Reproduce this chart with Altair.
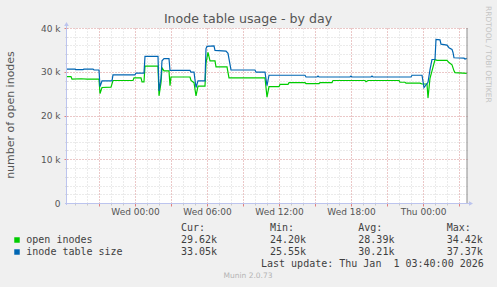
import altair as alt
import pandas as pd

# ---------------- data ----------------
series_names = ["open inodes", "inode table size"]
series_colors = ["#00CC00", "#0066B3"]

green_times = [
    "2025-12-30T18:20", "2025-12-30T18:40", "2025-12-30T18:45", "2025-12-30T19:30",
    "2025-12-30T20:00", "2025-12-30T21:00", "2025-12-30T21:05", "2025-12-30T21:15",
    "2025-12-30T22:00", "2025-12-30T22:10", "2025-12-30T23:50", "2025-12-30T23:55",
    "2025-12-31T00:30", "2025-12-31T00:35", "2025-12-31T00:45", "2025-12-31T00:50",
    "2025-12-31T01:55", "2025-12-31T02:00", "2025-12-31T02:10", "2025-12-31T02:15",
    "2025-12-31T02:25", "2025-12-31T02:50", "2025-12-31T02:55", "2025-12-31T03:00",
    "2025-12-31T04:35", "2025-12-31T04:40", "2025-12-31T04:55", "2025-12-31T05:05",
    "2025-12-31T05:15", "2025-12-31T05:50", "2025-12-31T05:55", "2025-12-31T06:05",
    "2025-12-31T06:15", "2025-12-31T06:40", "2025-12-31T06:45", "2025-12-31T07:40",
    "2025-12-31T07:50", "2025-12-31T10:50", "2025-12-31T11:00", "2025-12-31T11:10",
    "2025-12-31T12:00", "2025-12-31T12:05", "2025-12-31T12:45", "2025-12-31T12:50",
    "2025-12-31T14:10", "2025-12-31T14:15", "2025-12-31T15:20", "2025-12-31T15:25",
    "2025-12-31T16:25", "2025-12-31T16:30", "2025-12-31T19:10", "2025-12-31T19:15",
    "2025-12-31T19:25", "2025-12-31T22:00", "2025-12-31T22:05", "2025-12-31T22:30",
    "2025-12-31T22:35", "2025-12-31T23:45", "2025-12-31T23:55", "2026-01-01T00:20",
    "2026-01-01T00:25", "2026-01-01T00:35", "2026-01-01T00:45", "2026-01-01T01:00",
    "2026-01-01T01:10", "2026-01-01T02:00", "2026-01-01T02:10", "2026-01-01T02:25",
    "2026-01-01T02:35", "2026-01-01T02:40", "2026-01-01T03:40",
]
green_values = [
    28900, 28900, 28300, 28400,
    28300, 28300, 25000, 26400,
    26500, 28000, 28000, 28600,
    28600, 27700, 27700, 31300,
    31300, 24500, 27500, 30900,
    30200, 30200, 26800, 28800,
    28800, 28000, 27500, 24500,
    26700, 26700, 32000, 34420,
    32500, 32500, 31100, 31100,
    28600, 28600, 24200, 26600,
    26600, 27100, 27100, 27500,
    27500, 27300, 27300, 27500,
    27500, 28000, 28000, 27700,
    28000, 28000, 27600, 27600,
    27400, 27400, 27200, 27200,
    24000, 28500, 30200, 32800,
    32600, 32600, 32100, 31600,
    30200, 29800, 29620,
]

blue_times = [
    "2025-12-30T18:20", "2025-12-30T19:00", "2025-12-30T19:05", "2025-12-30T19:40",
    "2025-12-30T19:45", "2025-12-30T20:30", "2025-12-30T20:35", "2025-12-30T21:00",
    "2025-12-30T21:05", "2025-12-30T21:15", "2025-12-30T22:05", "2025-12-30T22:10",
    "2025-12-31T00:00", "2025-12-31T00:05", "2025-12-31T00:45", "2025-12-31T00:50",
    "2025-12-31T01:55", "2025-12-31T02:00", "2025-12-31T02:10", "2025-12-31T02:15",
    "2025-12-31T02:25", "2025-12-31T02:50", "2025-12-31T02:55", "2025-12-31T04:35",
    "2025-12-31T04:40", "2025-12-31T04:55", "2025-12-31T05:05", "2025-12-31T05:15",
    "2025-12-31T05:50", "2025-12-31T05:55", "2025-12-31T06:00", "2025-12-31T06:35",
    "2025-12-31T06:40", "2025-12-31T07:35", "2025-12-31T07:45", "2025-12-31T08:00",
    "2025-12-31T10:00", "2025-12-31T10:05", "2025-12-31T10:50", "2025-12-31T11:00",
    "2025-12-31T11:10", "2025-12-31T14:10", "2025-12-31T14:15", "2025-12-31T15:10",
    "2025-12-31T15:15", "2025-12-31T15:20", "2025-12-31T17:55", "2025-12-31T18:00",
    "2025-12-31T18:05", "2025-12-31T19:40", "2025-12-31T19:45", "2025-12-31T19:50",
    "2025-12-31T23:00", "2025-12-31T23:05", "2025-12-31T23:55", "2026-01-01T00:05",
    "2026-01-01T00:25", "2026-01-01T00:35", "2026-01-01T00:45", "2026-01-01T01:00",
    "2026-01-01T01:05", "2026-01-01T01:25", "2026-01-01T01:30", "2026-01-01T02:00",
    "2026-01-01T02:10", "2026-01-01T02:25", "2026-01-01T02:30", "2026-01-01T02:35",
    "2026-01-01T03:25", "2026-01-01T03:30", "2026-01-01T03:40",
]
blue_values = [
    30600, 30600, 30500, 30500,
    30600, 30600, 30400, 30400,
    26600, 27900, 27900, 29300,
    29300, 29700, 29700, 33500,
    33500, 25600, 28500, 32500,
    33000, 33000, 30300, 30300,
    29900, 29900, 26400, 27900,
    27900, 35300, 35800, 35900,
    34900, 34700, 34200, 30400,
    30400, 29900, 29900, 26800,
    29200, 29200, 28800, 28800,
    29000, 28800, 28800, 29000,
    28800, 28800, 29000, 28800,
    28800, 29200, 29200, 26400,
    27600, 30500, 32800, 32800,
    37370, 37300, 36300, 36100,
    35500, 35100, 34400, 33200,
    33100, 32900, 33050,
]

stat_headers = ["Cur:", "Min:", "Avg:", "Max:"]
cur_vals = ["29.62k", "33.05k"]
min_vals = ["24.20k", "25.55k"]
avg_vals = ["28.39k", "30.21k"]
max_vals = ["34.42k", "37.37k"]

title_text = "Inode table usage - by day"
y_title = "number of open inodes"
last_update = "Last update: Thu Jan \u00a01 03:40:00 2026"
footer = "Munin 2.0.73"
side_text = "RRDTOOL / TOBI OETIKER"

# ---------------- build ----------------
W, H = 400, 175
green_df = pd.DataFrame({"time": pd.to_datetime(green_times), "value": green_values})
blue_df = pd.DataFrame({"time": pd.to_datetime(blue_times), "value": blue_values})

t_start = pd.Timestamp("2025-12-30T18:20")
t_end = pd.Timestamp("2026-01-01T03:40")


def dt(ts):
    return alt.DateTime(year=ts.year, month=ts.month, date=ts.day,
                        hours=ts.hour, minutes=ts.minute)


def hour_ticks(step):
    first = t_start.ceil("h")
    out = []
    t = first
    while t <= t_end:
        if t.hour % step == 0:
            out.append(dt(t))
        t += pd.Timedelta(hours=1)
    return out


xs = alt.Scale(domain=[dt(t_start), dt(t_end)], nice=False)
ys = alt.Scale(domain=[0, 40000], nice=False)

FONT = "DejaVu Sans"
MONO = "DejaVu Sans Mono"
TXT = "#555555"
LEG = "#3f3f3f"
MINOR = "#D6D6D6"
MAJOR = "#EBA5A5"


def xaxis(**kw):
    base = dict(orient="bottom", title=None, domain=False, labelFlush=False)
    base.update(kw)
    return alt.Axis(**base)


def yaxis(**kw):
    base = dict(orient="left", title=None, domain=False, labelFlush=False)
    base.update(kw)
    return alt.Axis(**base)


minor = alt.Chart(green_df).mark_line(opacity=0).encode(
    x=alt.X("time:T", scale=xs, axis=xaxis(
        grid=True, gridColor=MINOR, gridDash=[1, 2], labels=False,
        ticks=True, tickColor="#C8C8C8", tickSize=2, values=hour_ticks(1))),
    y=alt.Y("value:Q", scale=ys, axis=yaxis(
        grid=True, gridColor=MINOR, gridDash=[1, 2], labels=False,
        ticks=True, tickColor="#C8C8C8", tickSize=2,
        values=list(range(0, 40001, 2000)))),
)

major = alt.Chart(green_df).mark_line(opacity=0).encode(
    x=alt.X("time:T", scale=xs, axis=xaxis(
        grid=True, gridColor=MAJOR, gridDash=[1, 2], labels=False,
        ticks=True, tickColor="#E08080", tickSize=3, values=hour_ticks(3))),
    y=alt.Y("value:Q", scale=ys, axis=yaxis(
        grid=True, gridColor=MAJOR, gridDash=[1, 2], labels=False,
        ticks=True, tickColor="#E08080", tickSize=3,
        values=[10000, 20000, 30000, 40000])),
)

green_line = alt.Chart(green_df).mark_line(strokeWidth=1.2, color=series_colors[0]).encode(
    x=alt.X("time:T", scale=xs, axis=xaxis(
        grid=False, ticks=False, labelFont=FONT, labelFontSize=9, labelColor=TXT,
        labelPadding=4, format="%a %H:%M", labelOverlap=False, values=hour_ticks(6))),
    y=alt.Y("value:Q", scale=ys, axis=yaxis(
        grid=False, ticks=False, labelFont=FONT, labelFontSize=9, labelColor=TXT,
        labelPadding=7, values=[0, 10000, 20000, 30000, 40000], labelOverlap=False,
        labelExpr="datum.value == 0 ? '0' : (datum.value / 1000) + ' k'")),
)

blue_line = alt.Chart(blue_df).mark_line(strokeWidth=1.2, color=series_colors[1]).encode(
    x=alt.X("time:T", scale=xs, axis=None),
    y=alt.Y("value:Q", scale=ys, axis=None),
)

one = pd.DataFrame({"k": [0]})
AX = "#BCC4EE"


def rule(x, y, x2=None, y2=None, color=AX, width=1):
    enc = dict(x=alt.value(x), y=alt.value(y))
    if x2 is not None:
        enc["x2"] = alt.value(x2)
    if y2 is not None:
        enc["y2"] = alt.value(y2)
    return alt.Chart(one).mark_rule(color=color, strokeWidth=width).encode(**enc)


def tri(x, y, shape):
    return alt.Chart(one).mark_point(shape=shape, filled=True, color=AX, size=22, opacity=1).encode(
        x=alt.value(x), y=alt.value(y))


def text(t, x, y, size=10, font=MONO, color=LEG, align="left", angle=0, baseline="middle"):
    return alt.Chart(pd.DataFrame({"t": [t]})).mark_text(
        font=font, fontSize=size, color=color, align=align, baseline=baseline, angle=angle
    ).encode(text="t:N", x=alt.value(x), y=alt.value(y))


deco = [
    rule(W, 0, y2=H, color="#8C8C8C"),
    rule(-2, H + 0.5, x2=W + 3),
    rule(-0.5, H + 2, y2=-3),
    tri(W + 4, H + 0.5, "triangle-right"),
    tri(-0.5, -4, "triangle-up"),
]

texts = [
    text(title_text, 181, -9, size=12.6, font=FONT, color=TXT, align="center"),
    text(y_title, -56, 87, size=11, font=FONT, color=TXT, align="center", angle=270),
    text(side_text, 421, -22, size=7.5, font=FONT, color="#C4C4C4", align="left", angle=90),
    text(footer, 181, 248, size=7.5, font=FONT, color="#B4B4B4", align="center"),
    text(last_update, 194, 235.5),
]

col_x = [114, 203, 291.3, 379.7]
for hdr, cx in zip(stat_headers, col_x):
    texts.append(text(hdr, cx, 199.7))

row_y = [212, 224]
for i in range(2):
    vals = [cur_vals[i], min_vals[i], avg_vals[i], max_vals[i]]
    for v, cx in zip(vals, col_x):
        texts.append(text(v, cx, row_y[i]))
    texts.append(text(series_names[i], -40.7, row_y[i]))
    texts.append(alt.Chart(one).mark_square(color=series_colors[i], size=30, opacity=1).encode(
        x=alt.value(-50), y=alt.value(row_y[i])))

chart = alt.layer(minor, major, green_line, blue_line, *deco, *texts).resolve_axis(
    x="independent", y="independent"
).properties(
    width=W, height=H,
    autosize=alt.AutoSizeParams(type="none"),
    padding={"left": 67, "top": 28, "right": 30, "bottom": 84},
    background="#F0F0F0",
).configure_view(fill="white", stroke=None)

chart.save("out.html", embed_options={"renderer": "svg", "actions": False})
